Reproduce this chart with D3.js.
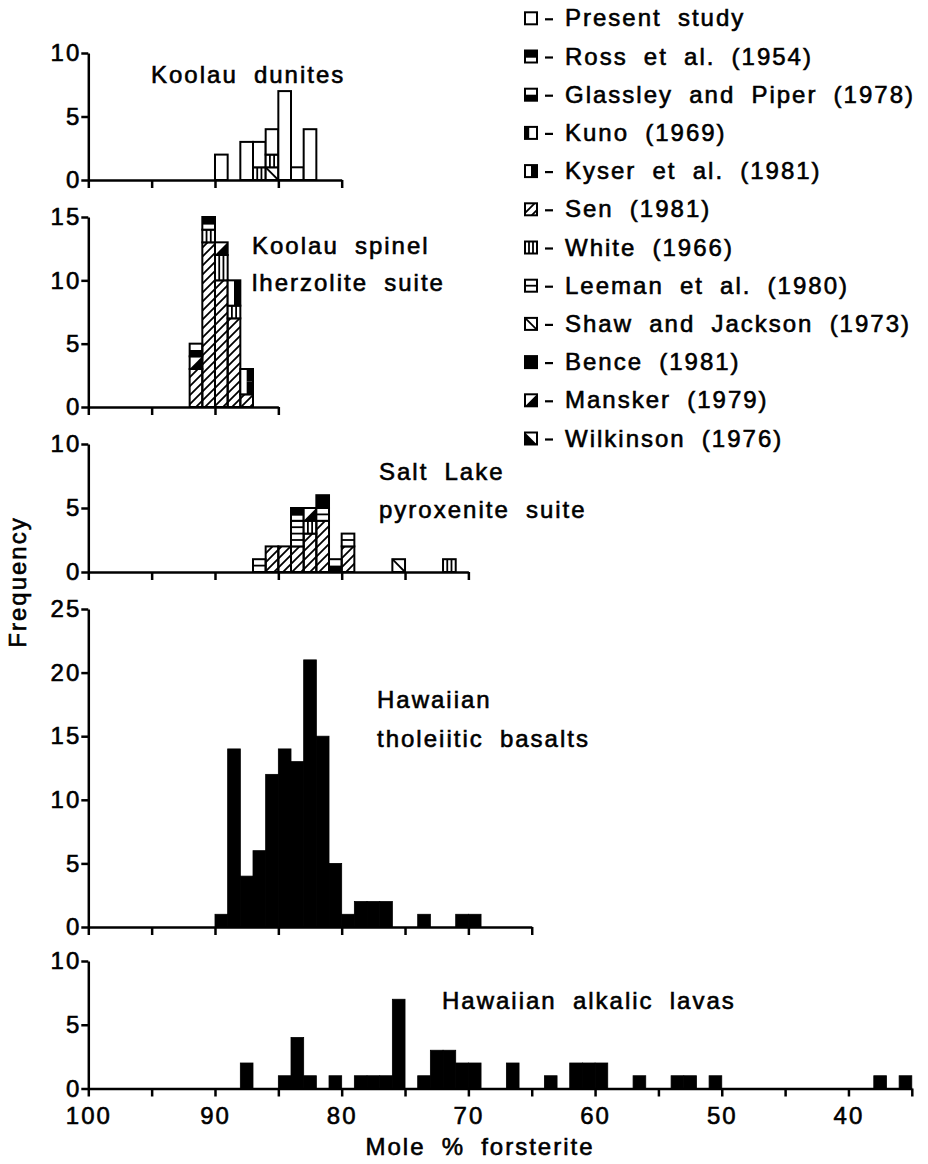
<!DOCTYPE html>
<html>
<head>
<meta charset="utf-8">
<script src="https://cdn.jsdelivr.net/npm/d3@7"></script>
<style>
  html, body { margin: 0; padding: 0; background: #fff; }
  svg { display: block; }
</style>
</head>
<body>
<div id="chart"></div>
<script>
// Olivine compositions - histograms of Mole % forsterite

const sourceKeys = ['present', 'ross', 'glassley', 'kuno', 'kyser', 'sen', 'white', 'leeman', 'shaw', 'bence', 'mansker', 'wilkinson'];
const sourceLabels = ['Present study', 'Ross et al. (1954)', 'Glassley and Piper (1978)', 'Kuno (1969)',
  'Kyser et al. (1981)', 'Sen (1981)', 'White (1966)', 'Leeman et al. (1980)', 'Shaw and Jackson (1973)',
  'Bence (1981)', 'Mansker (1979)', 'Wilkinson (1976)'];

// [upper Fo of 1% bin, stack from bottom: [source, count]]
const dunites = [
  [90, [['present', 2]]],
  [88, [['present', 3]]],
  [87, [['white', 1], ['present', 2]]],
  [86, [['shaw', 1], ['white', 1], ['present', 2]]],
  [85, [['present', 7]]],
  [84, [['present', 1]]],
  [83, [['present', 4]]]
];
const spinel = [
  [92, [['sen', 3], ['mansker', 1], ['glassley', 1]]],
  [91, [['sen', 13], ['white', 1], ['ross', 1]]],
  [90, [['sen', 10], ['white', 2], ['mansker', 1]]],
  [89, [['sen', 7], ['white', 1], ['kyser', 2]]],
  [88, [['sen', 1], ['kyser', 2]]]
];
const saltLake = [
  [87, [['leeman', 1]]],
  [86, [['sen', 2]]],
  [85, [['sen', 2]]],
  [84, [['sen', 2], ['leeman', 2], ['ross', 1]]],
  [83, [['sen', 3], ['white', 1], ['mansker', 1]]],
  [82, [['sen', 4], ['leeman', 1], ['bence', 1]]],
  [81, [['glassley', 1]]],
  [80, [['sen', 2], ['leeman', 1]]],
  [76, [['shaw', 1]]],
  [72, [['white', 1]]]
];

const tholBins = [90, 89, 88, 87, 86, 85, 84, 83, 82, 81, 80, 79, 78, 77, 74, 71, 70];
const tholCounts = [1, 14, 4, 6, 12, 14, 13, 21, 15, 5, 1, 2, 2, 2, 1, 1, 1];

const alkBins = [88, 85, 84, 83, 81, 79, 78, 77, 76, 74, 73, 72, 71, 70, 67, 64, 62, 61, 60, 57, 54, 53, 51, 38, 36];
const alkCounts = [2, 1, 4, 1, 1, 1, 1, 1, 7, 1, 3, 3, 2, 2, 2, 1, 2, 2, 2, 1, 1, 1, 1, 1, 1];

const xTickLabels = [100, 90, 80, 70, 60, 50, 40];

const W = 928, H = 1164;
const FONT = '"Liberation Sans", Arial, Helvetica, sans-serif';
const FS = 24, LS = 2, WS = 7.5, TSTROKE = 0.6;

const svg = d3.select('#chart').append('svg')
  .attr('width', W).attr('height', H)
  .attr('viewBox', [0, 0, W, H]);
svg.append('rect').attr('width', W).attr('height', H).attr('fill', '#fff');

const defs = svg.append('defs');
defs.append('pattern').attr('id', 'hatch')
  .attr('patternUnits', 'userSpaceOnUse').attr('width', 9).attr('height', 9)
  .append('path')
  .attr('d', 'M-1,10L10,-1M-3,3L3,-3M6,12L12,6')
  .attr('stroke', '#000').attr('stroke-width', 1.8);

function styleText(sel) {
  return sel.attr('font-family', FONT).attr('font-size', FS)
    .attr('letter-spacing', LS).attr('word-spacing', WS)
    .attr('fill', '#000').attr('stroke', '#000').attr('stroke-width', TSTROKE);
}

function txt(g, s, x, y) {
  return styleText(g.append('text').text(s).attr('x', x).attr('y', y));
}

// one box of a source symbol, split into n unit cells from the bottom
function drawBox(g, key, x0, y0, w, h, n) {
  const fill = key === 'sen' ? 'url(#hatch)' : key === 'bence' ? '#000' : '#fff';
  g.append('rect').attr('x', x0).attr('y', y0).attr('width', w).attr('height', h).attr('fill', fill);
  const uh = h / n;
  const blk = pts => g.append('path').attr('d', 'M' + pts.map(p => p.join(',')).join('L') + 'Z').attr('fill', '#000');
  const ln = (a, b, c, d) => g.append('line').attr('x1', a).attr('y1', b).attr('x2', c).attr('y2', d)
    .attr('stroke', '#000').attr('stroke-width', 1.8);
  if (key === 'white') {
    ln(x0 + w / 3, y0, x0 + w / 3, y0 + h);
    ln(x0 + 2 * w / 3, y0, x0 + 2 * w / 3, y0 + h);
  }
  if (key === 'leeman') {
    for (let k = 1; k < 2 * n; k++) ln(x0, y0 + k * uh / 2, x0 + w, y0 + k * uh / 2);
  }
  for (let u = 0; u < n; u++) {
    const t = y0 + u * uh, b = t + uh, r = x0 + w;
    if (key === 'ross') blk([[x0, t], [r, t], [r, t + uh * 0.6], [x0, t + uh * 0.6]]);
    if (key === 'glassley') blk([[x0, t + uh * 0.5], [r, t + uh * 0.5], [r, b], [x0, b]]);
    if (key === 'kuno') blk([[x0, t], [x0 + w * 0.35, t], [x0 + w * 0.35, b], [x0, b]]);
    if (key === 'kyser') blk([[x0 + w * 0.5, t], [r, t], [r, b], [x0 + w * 0.5, b]]);
    if (key === 'mansker') blk([[r, t], [r, b], [x0, b]]);
    if (key === 'wilkinson') blk([[x0, t], [r, b], [x0, b]]);
    if (key === 'shaw') ln(x0, t, r, b);
  }
  g.append('rect').attr('x', x0).attr('y', y0).attr('width', w).attr('height', h)
    .attr('fill', 'none').attr('stroke', '#000').attr('stroke-width', 2);
}

const x = d3.scaleLinear().domain([100, 35]).range([88.3, 911.8]);

const panels = [
  { stacks: dunites, yMax: 10, y0: 180, y1: 53, end: 80, yTicks: [0, 5, 10],
    title: ['Koolau dunites'], tx: 151, ty: [83] },
  { stacks: spinel, yMax: 15, y0: 407, y1: 217, end: 85, yTicks: [0, 5, 10, 15],
    title: ['Koolau spinel', 'lherzolite suite'], tx: 252, ty: [254, 291] },
  { stacks: saltLake, yMax: 10, y0: 572, y1: 444, end: 70, yTicks: [0, 5, 10],
    title: ['Salt Lake', 'pyroxenite suite'], tx: 379, ty: [480, 518] },
  { bins: tholBins, counts: tholCounts, yMax: 25, y0: 927, y1: 609, end: 65, yTicks: [0, 5, 10, 15, 20, 25],
    title: ['Hawaiian', 'tholeiitic basalts'], tx: 377, ty: [708, 747] },
  { bins: alkBins, counts: alkCounts, yMax: 10, y0: 1088.5, y1: 961, end: 35, yTicks: [0, 5, 10],
    title: ['Hawaiian alkalic lavas'], tx: 442, ty: [1009], labels: true }
];

panels.forEach(p => {
  const g = svg.append('g');
  const y = d3.scaleLinear().domain([0, p.yMax]).range([p.y0, p.y1]);
  const xp = d3.scaleLinear().domain([100, p.end]).range([x(100), x(p.end)]);

  // bars
  if (p.stacks) {
    p.stacks.forEach(([bin, segs]) => {
      let cum = 0;
      segs.forEach(([key, n]) => {
        drawBox(g, key, x(bin), y(cum + n), x(bin - 1) - x(bin), y(cum) - y(cum + n), n);
        cum += n;
      });
    });
  } else {
    g.append('g').selectAll('rect')
      .data(p.bins.map((b, i) => ({ b, c: p.counts[i] })))
      .join('rect')
      .attr('x', d => x(d.b))
      .attr('width', d => x(d.b - 1) - x(d.b))
      .attr('y', d => y(d.c))
      .attr('height', d => y(0) - y(d.c))
      .attr('fill', '#000').attr('stroke', '#000').attr('stroke-width', 0.8);
  }

  // axes
  const xa = g.append('g').attr('transform', `translate(0,${p.y0})`)
    .call(d3.axisBottom(xp)
      .tickValues(d3.range(100, p.end - 1, -5))
      .tickSize(8).tickSizeOuter(0).tickPadding(10)
      .tickFormat(d => p.labels && xTickLabels.includes(d) ? d : ''));
  const ya = g.append('g').attr('transform', `translate(${x(100)},0)`)
    .call(d3.axisLeft(y).tickValues(p.yTicks).tickSize(7).tickSizeOuter(0).tickPadding(0));
  [xa, ya].forEach(a => {
    a.attr('font-family', null).attr('font-size', null);
    a.select('.domain').attr('stroke-width', 2.5);
    a.selectAll('.tick line').attr('stroke-width', 2.5);
    styleText(a.selectAll('.tick text'));
  });

  p.title.forEach((t, i) => txt(g, t, p.tx, p.ty[i]));
});

// legend
const lg = svg.append('g');
sourceKeys.forEach((k, i) => {
  const cy = 18.3 + i * 38.2;
  drawBox(lg, k, 525, cy - 6, 12, 12, 1);
  lg.append('line').attr('x1', 545).attr('x2', 553).attr('y1', cy + 1).attr('y2', cy + 1)
    .attr('stroke', '#000').attr('stroke-width', 2.2);
  txt(lg, sourceLabels[i], 565, cy + 8);
});

// axis titles
txt(svg, 'Mole % forsterite', 480, 1155).attr('text-anchor', 'middle');
txt(svg, 'Frequency', 0, 0).attr('text-anchor', 'middle')
  .attr('transform', 'translate(26,582) rotate(-90)');
</script>
</body>
</html>
